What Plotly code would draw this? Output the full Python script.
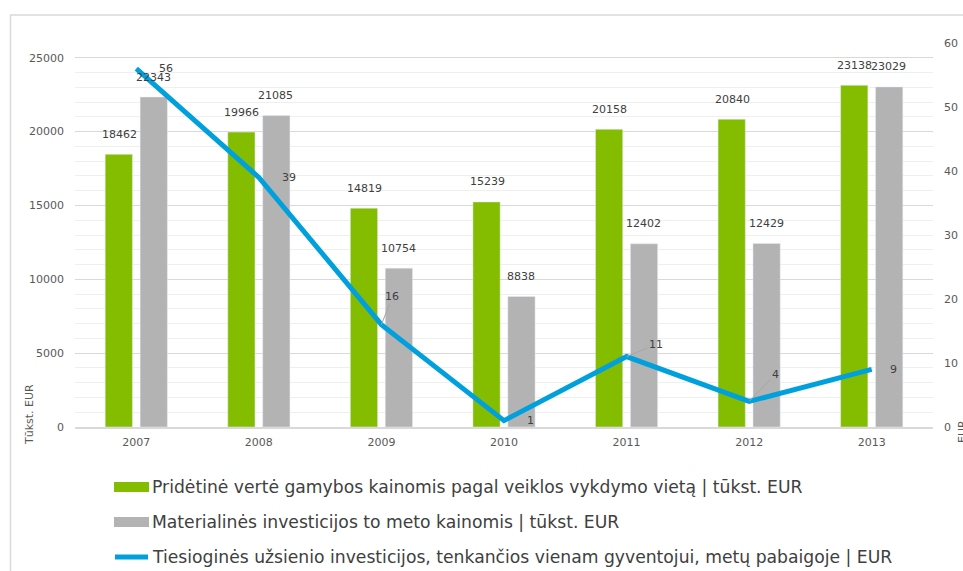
import plotly.graph_objects as go

years = ["2007", "2008", "2009", "2010", "2011", "2012", "2013"]
added_value = [18462, 19966, 14819, 15239, 20158, 20840, 23138]
tangible_inv = [22343, 21085, 10754, 8838, 12402, 12429, 23029]
fdi_per_capita = [56, 39, 16, 1, 11, 4, 9]

legend_names = [
    "Pridėtinė vertė gamybos kainomis pagal veiklos vykdymo vietą | tūkst. EUR",
    "Materialinės investicijos to meto kainomis | tūkst. EUR",
    "Tiesioginės užsienio investicijos, tenkančios vienam gyventojui, metų pabaigoje | EUR",
]

GREEN = "#84BD00"
GRAY = "#B3B3B3"
BLUE = "#00A0DC"
TXT = "#404040"
FONT = "DejaVu Sans, Verdana, sans-serif"

W, H = 963, 571
ML, MR, MT, MB = 75, 30, 43, 144
PW, PH = W - ML - MR, H - MT - MB


def px(x):
    return (x - ML) / PW


def py(y):
    return (H - MB - y) / PH


fig = go.Figure()
fig.add_trace(go.Bar(x=years, y=added_value, name=legend_names[0], marker_color=GREEN,
                     showlegend=False))
fig.add_trace(go.Bar(x=years, y=tangible_inv, name=legend_names[1], marker_color=GRAY,
                     showlegend=False))
fig.add_trace(go.Scatter(x=years, y=fdi_per_capita, name=legend_names[2], yaxis="y2",
                         mode="lines", line=dict(color=BLUE, width=5), showlegend=False))

annotations = []
# bar labels (x given as category index)
for i, v in enumerate(added_value):
    annotations.append(dict(x=i, y=v, xref="x", yref="y", text=str(v), showarrow=False,
                            xshift=-17, yshift=20, font=dict(size=11, color=TXT, family=FONT)))
for i, v in enumerate(tangible_inv):
    annotations.append(dict(x=i, y=v, xref="x", yref="y", text=str(v), showarrow=False,
                            xshift=17, yshift=20, font=dict(size=11, color=TXT, family=FONT)))

# line labels: (dx, dy) pixel offsets, leader flag
line_label_offsets = [(30, 0, False), (30, 0, False), (11, -28, True), (26, 0, False),
                      (29, -12, True), (26, -27, True), (22, 0, False)]
for i, (v, (dx, dy, lead)) in enumerate(zip(fdi_per_capita, line_label_offsets)):
    if lead:
        annotations.append(dict(x=i, y=v, xref="x", yref="y2", text=str(v), showarrow=True,
                                ax=dx, ay=dy, arrowhead=0, arrowwidth=1, arrowcolor="#A6A6A6",
                                font=dict(size=11, color=TXT, family=FONT)))
    else:
        annotations.append(dict(x=i, y=v, xref="x", yref="y2", text=str(v), showarrow=False,
                                xshift=dx, yshift=dy, font=dict(size=11, color=TXT, family=FONT)))

# axis titles
annotations.append(dict(x=px(29), y=py(415), xref="paper", yref="paper", text="Tūkst. EUR",
                        xanchor="center", yanchor="middle",
                        textangle=-90, showarrow=False, font=dict(size=11, color="#595959", family=FONT)))
annotations.append(dict(x=px(962), y=py(432), xref="paper", yref="paper", text="EUR",
                        xanchor="center", yanchor="middle",
                        textangle=-90, showarrow=False, font=dict(size=11, color="#595959", family=FONT)))

# manual legend
shapes = []
legend_rows = [487, 522, 557]
for i, (name, yc) in enumerate(zip(legend_names, legend_rows)):
    if i < 2:
        shapes.append(dict(type="rect", xref="paper", yref="paper", x0=px(114), x1=px(149),
                           y0=py(yc + 5), y1=py(yc - 5), fillcolor=[GREEN, GRAY][i], line_width=0))
    else:
        shapes.append(dict(type="line", xref="paper", yref="paper", x0=px(115), x1=px(148),
                           y0=py(yc), y1=py(yc), line=dict(color=BLUE, width=5)))
    annotations.append(dict(x=px(150), y=py(yc), xref="paper", yref="paper", text=name,
                            xanchor="left", yanchor="middle", showarrow=False,
                            font=dict(size=17.2, color=TXT, family=FONT)))

# chart border
shapes.append(dict(type="rect", xref="paper", yref="paper", x0=px(10.5), x1=px(990),
                   y0=py(600), y1=py(15), line=dict(color="#D9D9D9", width=1.5), layer="below"))

fig.update_layout(
    width=W, height=H,
    margin=dict(l=ML, r=MR, t=MT, b=MB),
    paper_bgcolor="white", plot_bgcolor="white",
    barmode="group", bargap=0.43, bargroupgap=0.22,
    font=dict(family=FONT, size=11, color="#595959"),
    xaxis=dict(type="category", range=[-0.5, 6.5], showgrid=False, showline=True,
               linecolor="#D9D9D9", linewidth=1.5, ticklabelstandoff=4, automargin=False,
               ticks="", tickfont=dict(size=11, color="#595959")),
    yaxis=dict(range=[0, 26000], tickvals=[0, 5000, 10000, 15000, 20000, 25000],
               tickformat="d", automargin=False,
               showgrid=True, gridcolor="#D9D9D9", gridwidth=1.3,
               minor=dict(dtick=1000, showgrid=True, gridcolor="#EFEFEF", gridwidth=1.3),
               zeroline=False, showline=False, ticks="", ticklabelstandoff=10,
               tickfont=dict(size=11, color="#595959")),
    yaxis2=dict(range=[0, 60], dtick=10, overlaying="y", side="right", showgrid=False,
                zeroline=False, showline=False, ticks="", ticklabelstandoff=10,
                automargin=False, tickfont=dict(size=11, color="#595959")),
    annotations=annotations,
    shapes=shapes,
    showlegend=False,
)

fig.write_html("out.html", config={"displayModeBar": False},
               post_script="document.body.style.margin='0';document.body.style.overflow='hidden';")
